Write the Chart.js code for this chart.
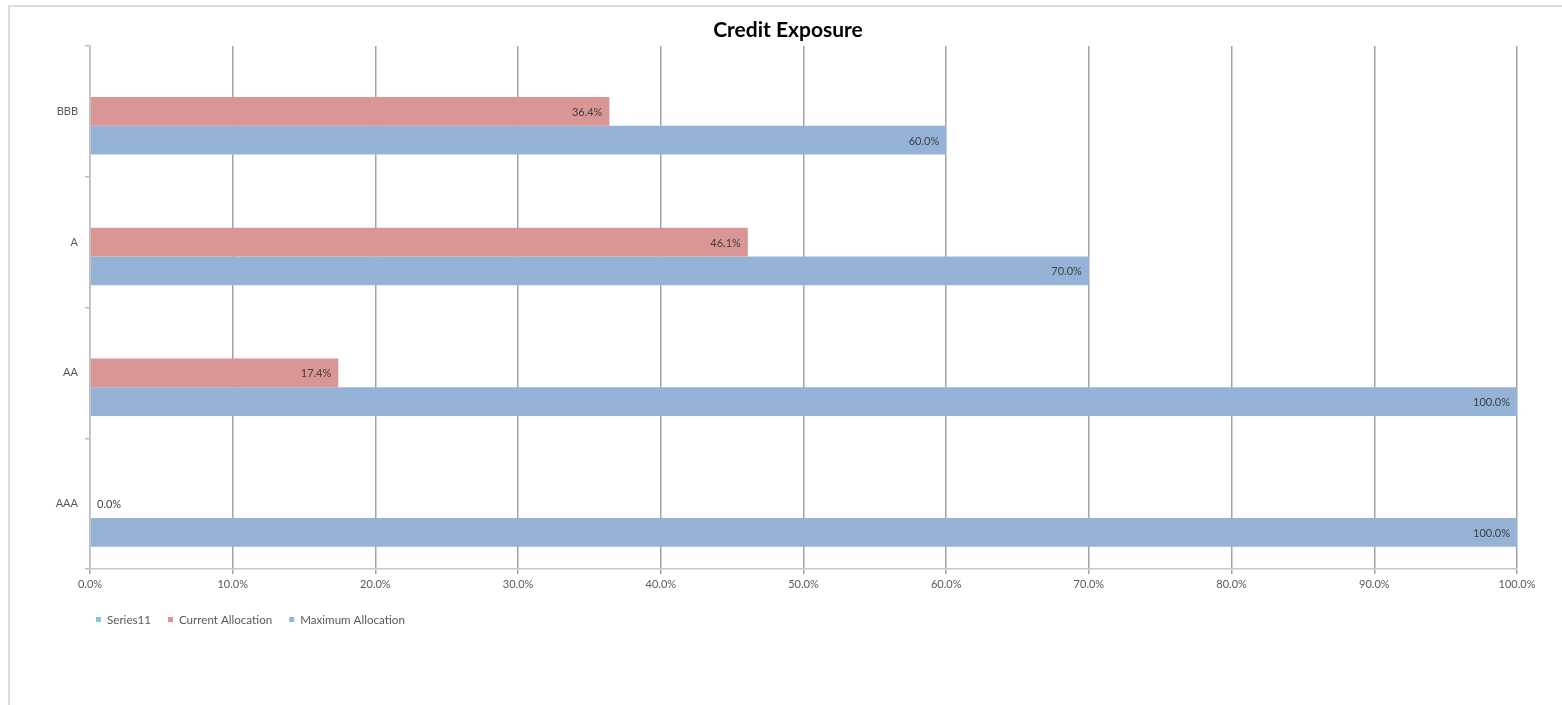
<!DOCTYPE html>
<html>
<head>
<meta charset="utf-8">
<title>Credit Exposure</title>
<script src="https://cdn.jsdelivr.net/npm/chart.js@4/dist/chart.umd.min.js"></script>
<style>
  html, body { margin: 0; padding: 0; background: #ffffff; }
  canvas { display: block; }
</style>
</head>
<body>
<canvas id="chart" width="1562" height="705"></canvas>
<script>
// Credit ratings, listed top to bottom
const ratings = ['BBB', 'A', 'AA', 'AAA'];

// Allocation series, in percent
const series11 = [null, null, null, null];
const currentAllocation = [36.4, 46.1, 17.4, 0.0];
const maximumAllocation = [60.0, 70.0, 100.0, 100.0];

// Horizontal axis
const axisMin = 0;
const axisMax = 100;
const axisStep = 10;

const chartTitle = 'Credit Exposure';
const seriesNames = ['Series11', 'Current Allocation', 'Maximum Allocation'];
const seriesColors = ['#86c6d9', '#d99694', '#95b3d7'];

const FONT = 'Lato, "Liberation Sans", sans-serif';
const fmtPct = v => Number(v).toFixed(1) + '%';

// Outer frame, title and legend
const decorPlugin = {
  id: 'decor',
  beforeDraw(chart) {
    const ctx = chart.ctx;
    ctx.save();
    ctx.fillStyle = '#ffffff';
    ctx.fillRect(0, 0, chart.width, chart.height);
    ctx.strokeStyle = '#dcdcdc';
    ctx.lineWidth = 2;
    ctx.beginPath();
    ctx.moveTo(9, chart.height);
    ctx.lineTo(9, 6);
    ctx.lineTo(chart.width, 6);
    ctx.stroke();
    ctx.restore();
  },
  afterDraw(chart) {
    const ctx = chart.ctx;
    ctx.save();
    // title
    ctx.font = 'bold 21px ' + FONT;
    ctx.fillStyle = '#000000';
    ctx.textAlign = 'center';
    ctx.textBaseline = 'middle';
    ctx.fillText(chartTitle, 788, 30);
    // legend
    ctx.font = '11.6px ' + FONT;
    ctx.textAlign = 'left';
    let x = 96;
    const y = 620;
    seriesNames.forEach((name, i) => {
      ctx.fillStyle = seriesColors[i];
      ctx.fillRect(x, y - 3, 5, 5);
      x += 11;
      ctx.fillStyle = '#595959';
      ctx.fillText(name, x, y);
      x += ctx.measureText(name).width + 17;
    });
    ctx.restore();
  }
};

// Value labels at the inner end of each bar
const valueLabelPlugin = {
  id: 'valueLabels',
  afterDatasetsDraw(chart) {
    const ctx = chart.ctx;
    ctx.save();
    ctx.font = '11px ' + FONT;
    ctx.fillStyle = '#404040';
    ctx.textBaseline = 'middle';
    chart.data.datasets.forEach((ds, di) => {
      const meta = chart.getDatasetMeta(di);
      meta.data.forEach((bar, i) => {
        const v = ds.data[i];
        if (v === null || v === undefined) return;
        if (v > 0) {
          ctx.textAlign = 'right';
          ctx.fillText(fmtPct(v), bar.x - 7, bar.y + 1);
        } else {
          ctx.textAlign = 'left';
          ctx.fillText(fmtPct(v), bar.base + 7, bar.y + 1);
        }
      });
    });
    ctx.restore();
  }
};

new Chart(document.getElementById('chart'), {
  type: 'bar',
  data: {
    labels: ratings,
    datasets: [
      { label: seriesNames[0], data: series11, backgroundColor: seriesColors[0] },
      { label: seriesNames[1], data: currentAllocation, backgroundColor: seriesColors[1] },
      { label: seriesNames[2], data: maximumAllocation, backgroundColor: seriesColors[2] }
    ]
  },
  options: {
    indexAxis: 'y',
    responsive: false,
    devicePixelRatio: 1,
    animation: false,
    categoryPercentage: 0.66,
    barPercentage: 1.0,
    layout: { padding: { left: 0, top: 46, right: 45, bottom: 106 } },
    plugins: {
      legend: { display: false },
      title: { display: false },
      tooltip: { enabled: false }
    },
    scales: {
      x: {
        min: axisMin,
        max: axisMax,
        ticks: {
          stepSize: axisStep,
          callback: v => fmtPct(v),
          font: { family: FONT, size: 11 },
          color: '#595959',
          padding: 4,
          maxRotation: 0
        },
        grid: { color: '#a3a3a3', lineWidth: 1.5, tickLength: 5, drawTicks: true },
        border: { color: '#c8c8c8', width: 1.5 },
        afterFit(scale) { scale.height = 30; }
      },
      y: {
        ticks: {
          font: { family: FONT, size: 11 },
          color: '#595959',
          padding: 7
        },
        grid: { drawOnChartArea: false, color: '#c0c0c0', lineWidth: 1.5, tickLength: 5 },
        border: { color: '#c0c0c0', width: 1.5 },
        afterFit(scale) { scale.width = 90; }
      }
    }
  },
  plugins: [decorPlugin, valueLabelPlugin]
});
</script>
</body>
</html>
